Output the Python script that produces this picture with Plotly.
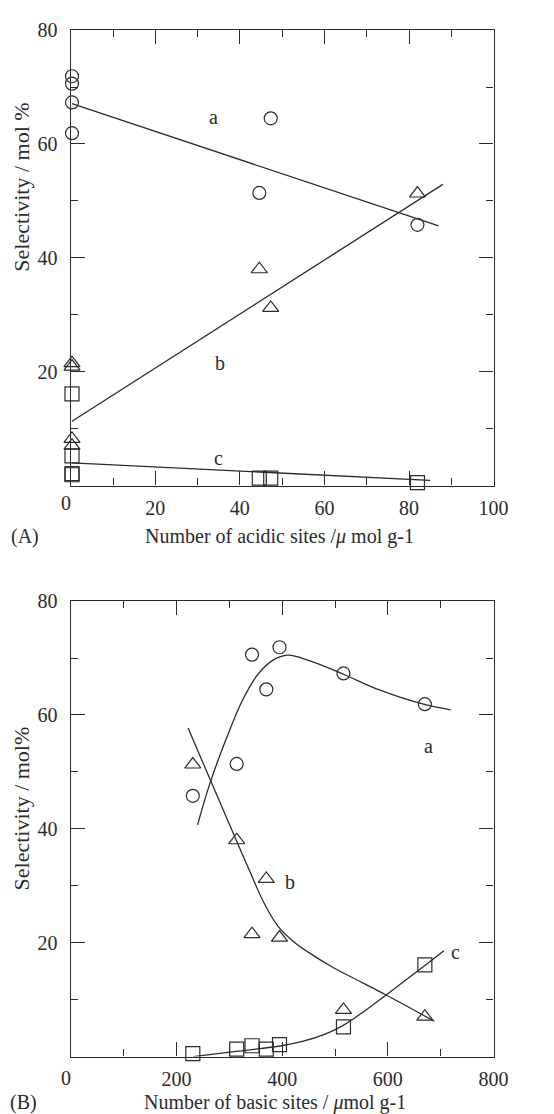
import plotly.graph_objects as go

# ---- data ----
acidic = [82.0, 44.6, 47.3, 0.3, 0.3, 0.3, 0.3]          # umol/g
basic = [231, 314, 370, 343, 395, 516, 670]              # umol/g
sel_a = [45.8, 51.4, 64.5, 70.6, 71.9, 67.3, 61.9]       # circles
sel_b = [51.3, 38.0, 31.2, 21.5, 20.9, 8.2, 7.0]         # triangles
sel_c = [0.5, 1.3, 1.3, 1.9, 2.1, 5.2, 16.1]             # squares

# straight trend lines, panel A
fit_a_x = [0.3, 87.0]
fit_a_y = [67.1, 45.6]
fit_b_x = [0.3, 88.0]
fit_b_y = [11.3, 52.9]
fit_c_x = [0.3, 85.0]
fit_c_y = [4.0, 0.9]

# smooth trend curves, panel B
curve_a_x = [240, 263, 295, 324, 353, 382, 411, 450, 515, 584, 671, 719]
curve_a_y = [40.7, 47.9, 56.0, 62.4, 67.0, 69.6, 70.5, 69.6, 67.2, 64.4, 61.8, 60.9]
curve_b_x = [222, 314, 340, 365, 392, 420, 450, 497, 541, 595, 688]
curve_b_y = [57.7, 37.8, 32.3, 27.1, 22.9, 20.3, 18.3, 15.6, 13.5, 10.9, 6.2]
curve_c_x = [232, 313, 399, 440, 480, 514, 550, 595, 670, 706]
curve_c_y = [0.0, 0.9, 1.9, 2.7, 3.9, 5.4, 7.6, 10.7, 16.0, 18.6]

xticks_a = [20, 40, 60, 80, 100]
xticks_b = [200, 400, 600, 800]
yticks = [20, 40, 60, 80]

INK = "#2b2b2b"
FONT = "Liberation Serif"
W, H = 554, 1114

fig = go.Figure()

def markers(x, y, symbol, size, xa, ya):
    fig.add_trace(go.Scatter(
        x=x, y=y, mode="markers", xaxis=xa, yaxis=ya, cliponaxis=False,
        marker=dict(symbol=symbol, size=size, color=INK,
                    line=dict(color=INK, width=1.2)),
        showlegend=False, hoverinfo="skip"))

def line(x, y, xa, ya, spline=False):
    fig.add_trace(go.Scatter(
        x=x, y=y, mode="lines", xaxis=xa, yaxis=ya,
        line=dict(color=INK, width=1.3, shape="spline" if spline else "linear",
                  smoothing=1.0),
        showlegend=False, hoverinfo="skip"))

# panel A
line(fit_a_x, fit_a_y, "x", "y")
line(fit_b_x, fit_b_y, "x", "y")
line(fit_c_x, fit_c_y, "x", "y")
markers(acidic, sel_a, "circle-open", 13, "x", "y")
markers(acidic, sel_b, "triangle-up-open", 14, "x", "y")
markers(acidic, sel_c, "square-open", 14, "x", "y")

# panel B
line(curve_a_x, curve_a_y, "x2", "y2", spline=True)
line(curve_b_x, curve_b_y, "x2", "y2", spline=True)
line(curve_c_x, curve_c_y, "x2", "y2", spline=True)
markers(basic, sel_a, "circle-open", 13, "x2", "y2")
markers(basic, sel_b, "triangle-up-open", 14, "x2", "y2")
markers(basic, sel_c, "square-open", 14, "x2", "y2")

def px2x(px):
    return px / W

def px2y(py):
    return 1 - py / H

xdom = [px2x(72.7), px2x(507.3)]
ydom_a = [px2y(479.3), px2y(19.3)]
ydom_b = [px2y(1056), px2y(596)]

axis_common = dict(
    showline=True, linecolor=INK, linewidth=1.3, mirror="allticks",
    ticks="inside", ticklen=14, tickwidth=1.2, tickcolor=INK,
    showgrid=False, zeroline=False,
    tickfont=dict(family=FONT, size=20, color=INK),
)

fig.update_layout(
    width=W, height=H,
    margin=dict(l=0, r=0, t=0, b=0),
    paper_bgcolor="white", plot_bgcolor="white",
    font=dict(family=FONT, color=INK),
    xaxis=dict(domain=xdom, anchor="y", range=[0, 100], tickvals=xticks_a,
               ticklabelstandoff=4,
               minor=dict(dtick=10, tick0=0, ticks="inside", ticklen=7,
                          tickwidth=1.2, tickcolor=INK, showgrid=False),
               **axis_common),
    yaxis=dict(domain=ydom_a, anchor="x", range=[0, 80], tickvals=yticks,
               ticklabelstandoff=8,
               minor=dict(dtick=10, tick0=0, ticks="inside", ticklen=7,
                          tickwidth=1.2, tickcolor=INK, showgrid=False),
               **axis_common),
    xaxis2=dict(domain=xdom, anchor="y2", range=[0, 800], tickvals=xticks_b,
                ticklabelstandoff=4,
                minor=dict(dtick=100, tick0=0, ticks="inside", ticklen=7,
                           tickwidth=1.2, tickcolor=INK, showgrid=False),
                **axis_common),
    yaxis2=dict(domain=ydom_b, anchor="x2", range=[0, 80], tickvals=yticks,
                ticklabelstandoff=8,
                minor=dict(dtick=10, tick0=0, ticks="inside", ticklen=7,
                           tickwidth=1.2, tickcolor=INK, showgrid=False),
                **axis_common),
)

ann = []
def text(s, x, y, size=20, angle=0, xref="paper", yref="paper", xanchor="center"):
    ann.append(dict(text=s, x=x, y=y, xref=xref, yref=yref, showarrow=False,
                    textangle=angle, xanchor=xanchor, yanchor="middle",
                    font=dict(family=FONT, size=size, color=INK)))

# curve labels (data coords)
text("a", 33.7, 64.8, xref="x", yref="y")
text("b", 35.2, 21.6, xref="x", yref="y")
text("c", 34.9, 4.8, xref="x", yref="y")
text("a", 677, 54.5, xref="x2", yref="y2")
text("b", 415, 30.6, xref="x2", yref="y2")
text("c", 728, 18.4, xref="x2", yref="y2")

# origin labels
text("0", px2x(68), px2y(497))
text("0", px2x(68), px2y(1078))

# axis titles
text("Selectivity / mol %", px2x(22), px2y(178), size=22, angle=-90)
text("Selectivity / mol%", px2x(22), px2y(805), size=22, angle=-90)
text("Number of acidic sites /<i>μ</i> mol g-1", px2x(287), px2y(531), size=20)
text("Number of basic sites / <i>μ</i>mol g-1", px2x(283), px2y(1102), size=20)
text("(A)", px2x(26), px2y(531), size=20)
text("(B)", px2x(24), px2y(1102), size=20)

fig.update_layout(annotations=ann)
fig.write_html("out.html")
